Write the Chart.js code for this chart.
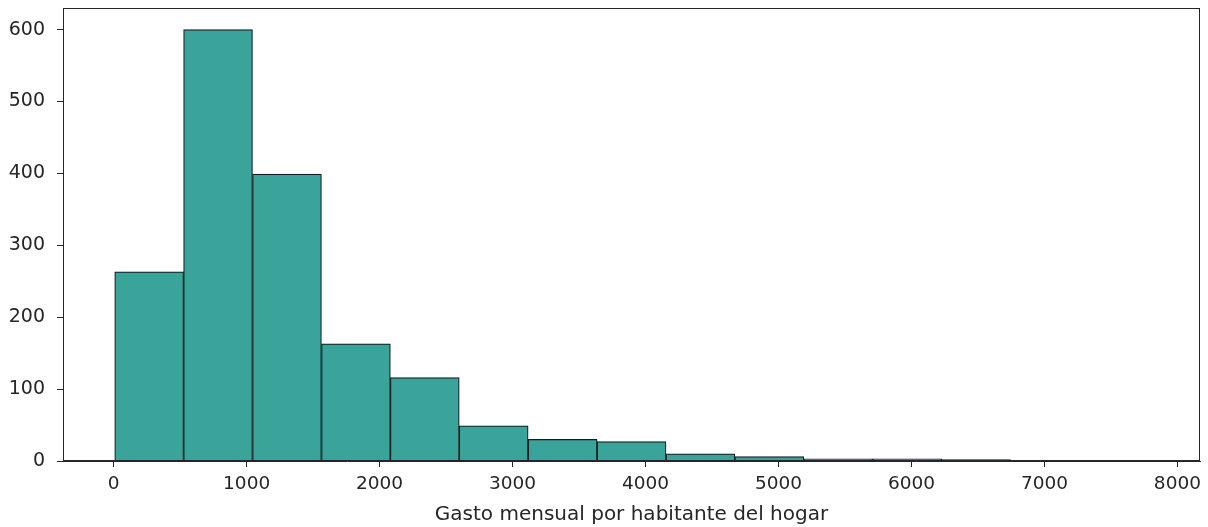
<!DOCTYPE html>
<html>
<head>
<meta charset="utf-8">
<script src="https://cdn.jsdelivr.net/npm/chart.js@4/dist/chart.umd.min.js"></script>
<style>
  html, body { margin: 0; padding: 0; background: #ffffff; }
  #wrap { width: 1208px; height: 527px; position: relative; }
</style>
</head>
<body>
<div id="wrap"><canvas id="hist"></canvas></div>
<script>
// Histogram bin edges (16 edges -> 15 bins) and household counts per bin
const binEdges = [8, 526, 1044, 1563, 2081, 2599, 3117, 3636, 4154, 4672, 5190, 5709, 6227, 6745, 7263, 7781];
const binCounts = [263, 600, 399, 163, 116, 49, 30, 27, 10, 6, 3, 3, 2, 1, 1];

// Axis ticks and range
const xTicks = [0, 1000, 2000, 3000, 4000, 5000, 6000, 7000, 8000];
const yTicks = [0, 100, 200, 300, 400, 500, 600];
const xRange = [-381, 8170];
const yRange = [0, 630];

const xTitle = 'Gasto mensual por habitante del hogar';

// Bars are placed at bin centres on a linear x scale
const points = binCounts.map((c, i) => ({ x: (binEdges[i] + binEdges[i + 1]) / 2, y: c }));

const ink = '#262626';

// Draws the full frame around the plotting area (top and right spines)
const framePlugin = {
  id: 'frame',
  afterDatasetsDraw(chart) {
    const { ctx, chartArea: a } = chart;
    ctx.save();
    ctx.strokeStyle = ink;
    ctx.lineWidth = 1;
    ctx.strokeRect(Math.round(a.left) + 0.5, Math.round(a.top) + 0.5,
                   Math.round(a.right - a.left) - 1, Math.round(a.bottom - a.top) - 1);
    ctx.restore();
  }
};

new Chart(document.getElementById('hist'), {
  type: 'bar',
  data: {
    datasets: [{
      data: points,
      backgroundColor: '#3aa39a',
      borderColor: '#131f1e',
      borderWidth: 1.2,
      borderSkipped: 'start',
      barPercentage: 1,
      categoryPercentage: 1
    }]
  },
  options: {
    responsive: true,
    maintainAspectRatio: false,
    animation: false,
    layout: { padding: { left: 0, top: 8, right: 8, bottom: 0 } },
    plugins: { legend: { display: false }, tooltip: { enabled: false } },
    scales: {
      x: {
        type: 'linear',
        offset: false,
        min: xRange[0],
        max: xRange[1],
        afterBuildTicks: s => { s.ticks = xTicks.map(v => ({ value: v })); },
        afterFit: s => { s.height = 66; s.paddingLeft = 0; s.paddingRight = 0; },
        grid: { display: true, offset: false, drawOnChartArea: false, drawTicks: true, tickLength: 6, color: ink, tickWidth: 1 },
        border: { display: true, color: ink, width: 1 },
        ticks: {
          color: ink,
          padding: 6,
          maxRotation: 0,
          font: { family: 'DejaVu Sans', size: 18.5 },
          callback: v => String(v)
        },
        title: {
          display: true,
          text: xTitle,
          color: ink,
          padding: { top: 0, bottom: 0 },
          font: { family: 'DejaVu Sans', size: 20 }
        }
      },
      y: {
        min: yRange[0],
        max: yRange[1],
        afterBuildTicks: s => { s.ticks = yTicks.map(v => ({ value: v })); },
        afterFit: s => { s.width = 63; s.paddingTop = 0; s.paddingBottom = 0; },
        grid: { display: true, drawOnChartArea: false, drawTicks: true, tickLength: 6, color: ink, tickWidth: 1 },
        border: { display: true, color: ink, width: 1 },
        ticks: {
          color: ink,
          padding: 12,
          font: { family: 'DejaVu Sans', size: 19 },
          callback: v => String(v)
        }
      }
    }
  },
  plugins: [framePlugin]
});
</script>
</body>
</html>
